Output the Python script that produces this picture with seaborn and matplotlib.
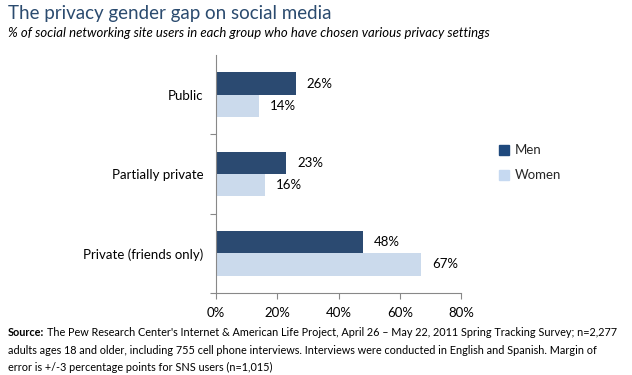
import matplotlib
matplotlib.use("Agg")
import matplotlib.pyplot as plt
import seaborn as sns
import pandas as pd
from matplotlib.lines import Line2D

categories = ["Public", "Partially private", "Private (friends only)"]
men = [26, 23, 48]
women = [14, 16, 67]
series = ["Men", "Women"]
xticks = [0, 20, 40, 60, 80]
xticklabels = ["0%", "20%", "40%", "60%", "80%"]

sns.set_theme(style="white")
plt.rcParams['font.family'] = ['Lato', 'DejaVu Sans']

df = pd.DataFrame({
    "category": categories * 2,
    "value": men + women,
    "group": ["Men"] * 3 + ["Women"] * 3,
})

colors = {"Men": "#1f497d", "Women": "#c6d9f1"}

fig = plt.figure(figsize=(6.32, 3.75), dpi=100)
ax = fig.add_axes([216/632, 1 - 293/375, (461 - 216)/632, (293 - 55)/375])

sns.barplot(data=df, y="category", x="value", hue="group", order=categories,
            hue_order=series, palette=colors, width=0.56, ax=ax, legend=False,
            edgecolor="none", linewidth=0)

for cont in ax.containers:
    ax.bar_label(cont, labels=[f"{v:.0f}%" for v in cont.datavalues],
                 padding=8, fontsize=9.5, color="#000000")

ax.set_xlim(0, 80)
ax.set_ylim(2.5, -0.5)
ax.set_xticks(xticks)
ax.set_xticklabels(xticklabels, fontsize=9.5, color="#000000")
ax.set_yticks(range(len(categories)))
ax.set_yticklabels(categories, fontsize=9.5, color="#000000")
ax.set_yticks([0.5, 1.5, 2.5], minor=True)
ax.tick_params(axis="y", which="major", length=0, pad=9)
ax.tick_params(axis="y", which="minor", length=4, color="#888888", width=0.8, left=True)
ax.tick_params(axis="x", which="major", length=4, color="#888888", width=0.8,
               bottom=True, direction="out", pad=6)
ax.set_xlabel("")
ax.set_ylabel("")
for s in ["top", "right"]:
    ax.spines[s].set_visible(False)
for s in ["left", "bottom"]:
    ax.spines[s].set_color("#888888")
    ax.spines[s].set_linewidth(0.8)

handles = [Line2D([0], [0], marker="s", linestyle="none", markersize=7,
                  markerfacecolor=colors[s], markeredgecolor=colors[s]) for s in series]
fig.legend(handles, series, loc="upper left", bbox_to_anchor=(492/632, 1 - 139/375),
           frameon=False, fontsize=9.5, handletextpad=0.3, labelspacing=1.0,
           handlelength=1.0, borderaxespad=0)

fig.text(8/632, 1 - 14/375, "The privacy gender gap on social media", fontsize=13.5,
         color="#2b4b6f", va="center", ha="left")
fig.text(8/632, 1 - 33/375,
         "% of social networking site users in each group who have chosen various privacy settings",
         fontsize=9.45, style="italic", color="#000000", va="center", ha="left")

fig.canvas.draw()
renderer = fig.canvas.get_renderer()
t_src = fig.text(8/632, 1 - 333/375, "Source:", fontsize=7.8, fontweight="bold",
                 va="center", ha="left", color="#000000")
bb = t_src.get_window_extent(renderer=renderer)
fig.text((bb.x1 + 3)/632, 1 - 333/375,
         "The Pew Research Center's Internet & American Life Project, April 26 \u2013 May 22, 2011 Spring Tracking Survey; n=2,277",
         fontsize=7.8, va="center", ha="left", color="#000000")
fig.text(8/632, 1 - 350/375,
         "adults ages 18 and older, including 755 cell phone interviews. Interviews were conducted in English and Spanish. Margin of",
         fontsize=7.8, va="center", ha="left", color="#000000")
fig.text(8/632, 1 - 367/375,
         "error is +/-3 percentage points for SNS users (n=1,015)",
         fontsize=7.8, va="center", ha="left", color="#000000")

fig.savefig("out.png", dpi=100)
